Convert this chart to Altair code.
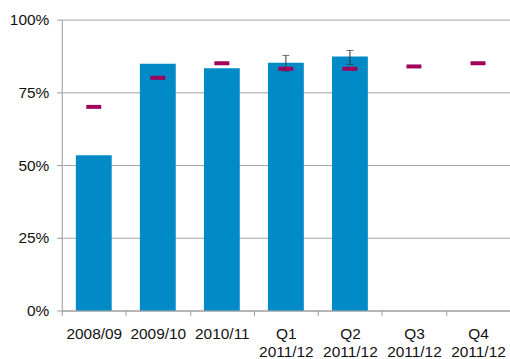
import altair as alt
import pandas as pd

# Reporting periods ("|" marks a line break in the axis label)
periods = ["2008/09", "2009/10", "2010/11",
           "Q1|2011/12", "Q2|2011/12", "Q3|2011/12", "Q4|2011/12"]
# Achieved rate (blank where not yet reported)
actual = [0.534, 0.848, 0.833, 0.852, 0.873, None, None]
# Target rate for each period
target = [0.70, 0.80, 0.85, 0.831, 0.831, 0.839, 0.85]
# Confidence interval around the quarterly figures
ci_low = [None, None, None, 0.823, 0.845, None, None]
ci_high = [None, None, None, 0.877, 0.894, None, None]

df = pd.DataFrame({
    "period": periods,
    "actual": actual,
    "target": target,
    "ci_low": ci_low,
    "ci_high": ci_high,
})

BLUE = "#008AC6"
PURPLE = "#A0005A"
FONT = "Liberation Sans"

x = alt.X(
    "period:N",
    sort=periods,
    scale=alt.Scale(paddingInner=0, paddingOuter=0),
    axis=alt.Axis(
        title=None,
        labelAngle=0,
        labelExpr="split(datum.label, '|')",
        tickBand="extent",
        tickSize=5,
        tickColor="#999999",
        domainColor="#999999",
        labelPadding=11,
        labelFontSize=15.5,
        labelFont=FONT,
        labelColor="#111111",
        labelLineHeight=18,
        grid=False,
    ),
)

y_scale = alt.Scale(domain=[0, 1], nice=False)

bars = alt.Chart(df).mark_bar(
    color=BLUE, width=alt.RelativeBandSize(0.56)
).encode(
    x=x,
    y=alt.Y(
        "actual:Q",
        scale=y_scale,
        axis=alt.Axis(
            title=None,
            values=[0, 0.25, 0.5, 0.75, 1],
            format=".0%",
            tickSize=5,
            tickColor="#999999",
            domainColor="#999999",
            gridColor="#A6A6A6",
            labelPadding=8,
            labelFontSize=15.5,
            labelFont=FONT,
            labelColor="#111111",
        ),
    ),
)

err_line = alt.Chart(df).mark_rule(color="#333333", strokeWidth=1).encode(
    x=alt.X("period:N", sort=periods),
    y="ci_low:Q",
    y2="ci_high:Q",
)

err_low_cap = alt.Chart(df).mark_tick(
    color="#333333", size=7, thickness=1
).encode(x=alt.X("period:N", sort=periods), y="ci_low:Q")

err_high_cap = alt.Chart(df).mark_tick(
    color="#333333", size=7, thickness=1
).encode(x=alt.X("period:N", sort=periods), y="ci_high:Q")

targets = alt.Chart(df).mark_tick(
    color=PURPLE, size=15, thickness=4, opacity=1
).encode(x=alt.X("period:N", sort=periods), y="target:Q")

chart = alt.layer(bars, err_line, err_low_cap, err_high_cap, targets).properties(
    width=450,
    height=292,
    autosize=alt.AutoSizeParams(type="none"),
    padding={"left": 62, "top": 19, "right": 0, "bottom": 48},
    background="white",
).configure_view(stroke=None)

chart.save("out.html", embed_options={"renderer": "svg", "actions": False})
